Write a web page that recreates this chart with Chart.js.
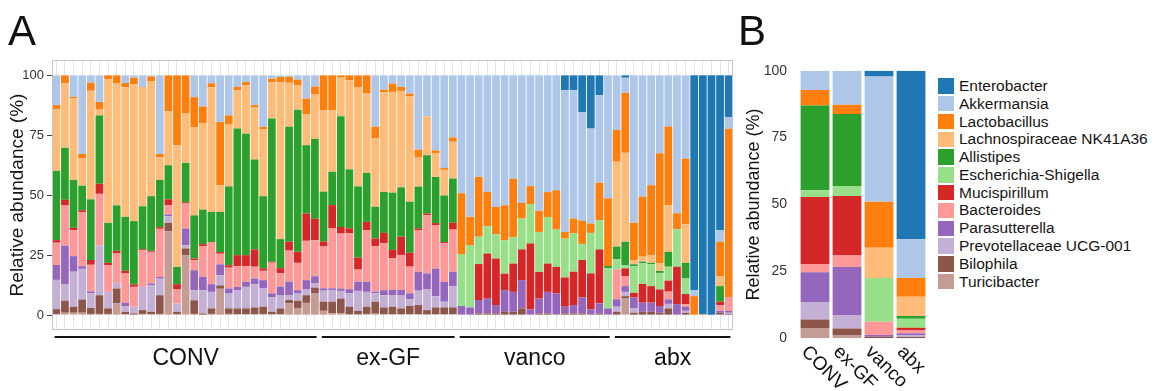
<!DOCTYPE html>
<html>
<head>
<meta charset="utf-8">
<script src="https://cdn.jsdelivr.net/npm/chart.js@4.4.1/dist/chart.umd.min.js"></script>
<style>
  body { margin: 0; background: #fff; font-family: "Liberation Sans", Arial, sans-serif; }
  #wrap { position: relative; width: 1162px; height: 391px; overflow: hidden; }
  #chartA { position: absolute; left: 0; top: 0; }
  #chartB { position: absolute; left: 730px; top: 0; }
  #legend { position: absolute; left: 938px; top: 77px; }
  .row { height: 17.8px; display: flex; align-items: center; font-size: 15.5px; color: #151515; white-space: nowrap; }
  .sw { width: 16px; height: 15.5px; margin-right: 5px; flex: none; }
</style>
</head>
<body>
<div id="wrap">
  <canvas id="chartA" width="740" height="391"></canvas>
  <canvas id="chartB" width="205" height="391"></canvas>
  <div id="legend"></div>
</div>
<script>
// groups of samples (panel A) and categories of panel B
const groupNames = ['CONV', 'ex-GF', 'vanco', 'abx'];
const groupSizes = [31, 16, 18, 14];
const yTicks = [0, 25, 50, 75, 100];

const speciesNames = ['Enterobacter', 'Akkermansia', 'Lactobacillus', 'Lachnospiraceae NK41A36',
  'Allistipes', 'Escherichia-Shigella', 'Mucispirillum', 'Bacteroides', 'Parasutterella',
  'Prevotellaceae UCG-001', 'Bilophila', 'Turicibacter'];

// panel A: relative abundance (%) per sample, CONV | ex-GF | vanco | abx
const enterobacterA = [
  0,0,0,0,0,0,0,0,0,0, 0,0,0,0,0,0,0,0,0,0, 0,0,0,0,0,0,0,0,0,0, 0,
  0,0,0,0,0,0,0,0,0,0, 0,0,0,0,0,0,
  0,0,0,0,0,0,0,0,0,0, 0,0,6.2,6.2,15.3,22.2,8.3,0,
  0,1,0,0,0,0,0,0,0,89.6, 99.6,100,64.5,17.4
];
const akkermansiaA = [
  12.4,0,9,32.8,3.1,11.1,0,0,3.2,1, 4.9,0.5,32.8,0,0,0,9.1,13,3.3,19.5, 16.7,4.8,2.8,12.4,21.5,1.4,0.7,0.6,1.8,9.7, 4.7,
  0,0,0,0,0,0,21.4,6,3.4,4.8, 7.6,31,17.1,31.3,38.6,25.9,
  49.2,59,42.3,48.6,54.9,54.2,43.1,53.2,46.2,56.5, 48.7,47.9,59.1,53.5,45.3,39.6,36.5,51.3,
  22.8,6.3,61.5,50.6,45.8,32.5,21.3,57.5,34.7,2.5, 0,0,4.9,4.9
];
const lactobacillusA = [
  1.8,3.2,0.6,1.7,3.3,3.2,1.5,3.2,1.8,2.8, 0,1.9,1.4,14.9,29.2,15.9,12.5,6.9,1.7,26.4, 3.8,1.4,1.4,1,1.1,1.4,2.3,2.5,2.4,6.5, 3.3,
  14.5,14.6,1,2,4.9,7.6,4.9,1,3.5,1.7, 1.1,3.3,0,1.1,0.8,1.8,
  25.3,11.8,25,14.3,11.4,14.6,24.3,6.5,7.5,8.8, 10.4,16.4,2.8,6.2,9.7,3.9,15.6,28.2,
  13.2,25,15.6,25,29.2,45.8,32.9,6.7,27.4,7.9, 0.4,0,14.3,70.1
];
const lachnospiraceaeA = [
  25.6,27,34,11.5,45.3,2.4,60,51,54,57, 49.7,48,9.4,22.6,50.7,20.6,36.8,36.1,52,11.1, 25.8,16,20.1,21.7,27.8,15.2,65.3,18.3,10.1,12.9, 18.5,
  34,25.6,16.1,37.2,41.4,33.1,28.5,41.6,42,40.2, 44,12.1,16.2,10,10.7,15.3,
  0,0,0,0,0,0,0,0,0,0, 0,0,0,0,0,0,0,0,
  35.4,37.1,1.7,2.1,3.2,3.3,19.4,0,16.1,0, 0,0,4.2,0
];
const allistipesA = [
  28.9,21.7,20,10.3,25.3,28.5,16.7,19,22.5,26.4, 17.9,22.8,19.7,14.2,7.2,16.3,18,14.4,12.5,16.7, 32.9,52.8,50.7,37.5,30.1,59.7,12.1,47.9,59.3,28.5, 33.3,
  20.8,13.9,46.1,24.6,29.7,20.4,13.2,17.1,23.9,20.6, 21.3,17.4,24.3,19.2,19.4,18.5,
  0,0,0,0,0,0,0,0,0,0, 0,0,0,0,0,0,0,1,
  5.3,9.7,0.8,0.7,0.5,0.8,6.2,0,6.5,0, 0,0,6.5,0
];
const escherichiaA = [
  0,0,0,0,0,0,0,0,0,0, 0,0,0,0,0,0,0,0,0,0, 0,0,0,0,0,0,0,0,0,0, 0,
  0,0,0,0,0,0,0,0,0,0, 0,0,0,0,0,0,
  21.7,26,11.4,11.4,10.1,13.9,11.1,12.9,16.4,16.7, 19.4,15.6,16.2,16,6.7,16.9,12.2,16.7,
  4.2,1.4,11.1,8.6,9.2,6.9,5.8,15.6,6.5,0, 0,0,0,0
];
const mucispirillumA = [
  1.1,2.4,1,0.8,2,4.2,1,1.1,1.1,1, 0.4,0.4,0.7,2.5,2.2,0.4,0.7,0.8,0,0.7, 1,4.6,4.6,7.2,1,0.4,2.1,3.8,4.6,11.4, 9,
  2.1,9.7,2.8,2.1,5,3.5,3.2,4.2,3.5,7.6, 5.8,0.7,0.7,1,0.4,2.8,
  0,0,15,18.8,19.4,6.9,11.8,12.8,27.5,11.1, 11.8,11.1,12.2,13.9,15.6,15,22.5,0,
  0,3.2,1.9,7.8,6.9,6.9,4.6,15.6,4.2,0, 0,0,1.4,0
];
const bacteroidesA = [
  9.3,16.7,10.8,22.5,11.1,21.5,11.1,12.2,12.2,8.3, 15.3,13.2,20.1,3.8,5.8,10.7,4.2,12.8,17.6,4.4, 8.7,8.6,6.5,4.9,3.9,12.8,5.6,12.9,11.4,16.4, 15,
  17.4,25,22.9,23.3,5.1,21.5,19,19.7,13.2,14.6, 11.1,17.4,24.3,18,16.2,17.6,
  0,0,0,0,0,0,0,0,0,0, 0,0,0,0,0,0,0,0,
  12.5,4.2,0,0,0,0,3.2,0,1.1,0, 0,0,2.4,5.8
];
const parasutterellaA = [
  6.2,16,6.5,1.1,0.7,0,0,0,1.4,0, 0,0.7,0.7,0.7,0,6.9,8.3,5.6,3.2,4.6, 2.1,1.4,2.1,2.4,3.5,1.7,3.5,5.6,1.4,3.9, 2.8,
  1,0.7,1,1.7,3.8,4.2,0.7,2.1,2.1,2.1, 2.5,7.9,6.7,11.5,8.3,6,
  3.8,3.2,5.6,6.2,3.5,9,8.3,11.8,2.4,6.2, 9,9,2.8,3.5,6.7,2.4,4.2,2.8,
  3.1,2.4,4.6,3.8,3.8,2.8,1.9,4.6,1.7,0, 0,0,0.8,0.8
];
const prevotellaceaeA = [
  12.2,7,14.6,12.8,6.2,20.8,6.9,2.4,2.4,2.8, 9.7,11.1,6.9,2.8,3.5,1.4,4.2,9.7,6.9,4.2, 6.2,7.6,9,9.7,7.6,6,5.6,2.1,3,2.4, 1.9,
  4.6,4.9,3.2,5.6,8.3,6.2,3.5,5.1,4.9,5.6, 2.8,6,8.6,4.7,2.4,8.9,
  0,0,0,0,0,0,0,0,0,0, 0,0,0,0,0,0,0,0,
  2.1,1.8,1.8,0,0,0,1.9,0,0.8,0, 0,0,0,0.5
];
const bilophilaA = [
  2,5,2.5,5.5,2.5,7.8,2.3,6.2,1,0.5, 1.6,1,7.8,3.5,1,2.8,5.7,0.5,2.3,1.4, 2.3,2.4,2.4,2.8,3,1,2.4,1.4,3,3.2, 2.5,
  3.8,4.9,6.2,3.2,1.5,3,5,2.8,3.1,2.4, 3.4,3.8,1.8,2.8,2.8,2.8,
  0,0,0.7,0.7,0.7,1.4,1.4,2.8,0,0.7, 0.7,0,0.7,0.7,0.7,0,0.7,0,
  1.4,1,1,1.4,1.4,1,2.8,0,1,0, 0,0,1,0.5
];
const turicibacterA = [
  0.5,1,1,1,0.5,0.5,0.5,4.9,0.4,0.2, 0.5,0.4,0.5,35,0.4,25,0.5,0.2,0.5,11, 0.5,0.4,0.4,0.4,0.5,0.4,0.4,4.9,3,5.1, 9,
  1.8,0.7,0.7,0.3,0.3,0.5,0.6,0.4,0.4,0.4, 0.4,0.4,0.3,0.4,0.4,0.4,
  0,0,0,0,0,0,0,0,0,0, 0,0,0,0,0,0,0,0,
  0,6.9,0,0,0,0,0,0,0,0, 0,0,0,0
];

// panel B: group means (%), order = groupNames
const enterobacterB = [0, 0, 2.2, 63];
const akkermansiaB = [7.2, 12.7, 46.8, 14.5];
const lactobacillusB = [5.8, 3.5, 17.2, 7];
const lachnospiraceaeB = [0, 0, 11.3, 7.2];
const allistipesB = [31.7, 26.9, 0, 1];
const escherichiaB = [2.5, 3.7, 16.3, 3.4];
const mucispirillumB = [25, 22.3, 0, 0.8];
const bacteroidesB = [3.1, 4.3, 5, 1.2];
const parasutterellaB = [11.1, 17.9, 0.6, 0.9];
const prevotellaceaeB = [6.6, 5, 0, 0.5];
const bilophilaB = [3.3, 2.5, 0.6, 0.5];
const turicibacterB = [3.7, 1.2, 0, 0];

const seriesA = [enterobacterA, akkermansiaA, lactobacillusA, lachnospiraceaeA, allistipesA, escherichiaA,
  mucispirillumA, bacteroidesA, parasutterellaA, prevotellaceaeA, bilophilaA, turicibacterA];
const seriesB = [enterobacterB, akkermansiaB, lactobacillusB, lachnospiraceaeB, allistipesB, escherichiaB,
  mucispirillumB, bacteroidesB, parasutterellaB, prevotellaceaeB, bilophilaB, turicibacterB];

const colors = ['#1f77b4', '#aec7e8', '#ff7f0e', '#ffbb78', '#2ca02c', '#98df8a',
  '#d62728', '#ff9896', '#9467bd', '#c5b0d5', '#8c564b', '#c49c94'];

const FONT = '"Liberation Sans", Arial, Helvetica, sans-serif';

// sample labels (not shown)
const sampleLabels = [];
groupNames.forEach((g, i) => {
  for (let k = 1; k <= groupSizes[i]; k++) sampleLabels.push(g + ' ' + k);
});

// stack from the bottom: Turicibacter first
function makeDatasets(series) {
  return speciesNames.map((name, i) => ({
    label: name,
    data: series[i],
    backgroundColor: colors[i],
    borderWidth: 0,
    categoryPercentage: 1,
    barPercentage: 0.9
  })).reverse();
}

const panelA = {
  id: 'panelA',
  afterDraw(chart) {
    const { ctx, chartArea: a, scales: { x } } = chart;
    ctx.save();
    ctx.strokeStyle = '#c4c4c4';
    ctx.lineWidth = 1;
    ctx.strokeRect(a.left + 0.5, a.top + 0.5, a.right - a.left - 1, a.bottom - a.top - 1);

    const step = x.getPixelForValue(1) - x.getPixelForValue(0);
    ctx.strokeStyle = '#111';
    ctx.fillStyle = '#111';
    ctx.lineWidth = 2;
    ctx.font = '23px ' + FONT;
    ctx.textAlign = 'center';
    ctx.textBaseline = 'middle';
    let start = 0;
    groupNames.forEach((g, i) => {
      const end = start + groupSizes[i] - 1;
      const x0 = x.getPixelForValue(start) - step * 0.2;
      const x1 = x.getPixelForValue(end) + step * 0.2;
      ctx.beginPath();
      ctx.moveTo(x0, a.bottom + 7);
      ctx.lineTo(x1, a.bottom + 7);
      ctx.stroke();
      ctx.fillText(g, (x0 + x1) / 2, a.bottom + 29);
      start = end + 1;
    });

    ctx.textAlign = 'left';
    ctx.textBaseline = 'alphabetic';
    ctx.font = '42px ' + FONT;
    ctx.fillText('A', 8, 45);
    ctx.restore();
  }
};

const panelB = {
  id: 'panelB',
  afterDraw(chart) {
    const { ctx, chartArea: a, scales: { x } } = chart;
    ctx.save();
    ctx.fillStyle = '#111';
    ctx.font = '19px ' + FONT;
    groupNames.forEach((g, i) => {
      ctx.save();
      ctx.translate(x.getPixelForValue(i) - 4, a.bottom + 4);
      ctx.rotate(Math.PI / 4);
      ctx.textAlign = 'left';
      ctx.textBaseline = 'top';
      ctx.fillText(g, 0, 0);
      ctx.restore();
    });
    ctx.font = '42px ' + FONT;
    ctx.fillText('B', 8, 45);
    ctx.restore();
  }
};

new Chart(document.getElementById('chartA'), {
  type: 'bar',
  data: { labels: sampleLabels, datasets: makeDatasets(seriesA) },
  plugins: [panelA],
  options: {
    responsive: false,
    animation: false,
    layout: { padding: { left: 0, top: 60, right: 7, bottom: 61 } },
    plugins: { legend: { display: false }, tooltip: { enabled: false } },
    scales: {
      x: {
        stacked: true,
        grid: { offset: false, color: '#e4e4e4', drawTicks: false },
        border: { display: false },
        ticks: { display: false, autoSkip: false },
        afterFit: s => { s.height = 0; }
      },
      y: {
        stacked: true,
        min: -6.2,
        max: 106.4,
        afterBuildTicks: s => { s.ticks = yTicks.map(v => ({ value: v })); },
        afterFit: s => { s.width = 52; },
        grid: { drawOnChartArea: false, drawTicks: true, tickLength: 5, color: '#444' },
        border: { display: false },
        ticks: { font: { family: FONT, size: 13 }, color: '#333', padding: 3 },
        title: {
          display: true,
          text: 'Relative abundance (%)',
          font: { family: FONT, size: 19 },
          color: '#151515',
          padding: { top: 6, bottom: 0 }
        }
      }
    }
  }
});

new Chart(document.getElementById('chartB'), {
  type: 'bar',
  data: { labels: groupNames, datasets: makeDatasets(seriesB) },
  plugins: [panelB],
  options: {
    responsive: false,
    animation: false,
    layout: { padding: { left: 0, top: 70.7, right: 8, bottom: 52.7 } },
    plugins: { legend: { display: false }, tooltip: { enabled: false } },
    scales: {
      x: {
        stacked: true,
        grid: { display: false },
        border: { display: false },
        ticks: { display: false },
        afterFit: s => { s.height = 0; }
      },
      y: {
        stacked: true,
        min: 0,
        max: 100,
        afterBuildTicks: s => { s.ticks = yTicks.map(v => ({ value: v })); },
        afterFit: s => { s.width = 69; },
        grid: { display: false },
        border: { display: false },
        ticks: { font: { family: FONT, size: 14 }, color: '#333', padding: 4 },
        title: {
          display: true,
          text: 'Relative abundance (%)',
          font: { family: FONT, size: 18 },
          color: '#151515',
          padding: { top: 13, bottom: 0 }
        }
      }
    }
  }
});

// legend built from the same names and colours
const legend = document.getElementById('legend');
speciesNames.forEach((name, i) => {
  const row = document.createElement('div');
  row.className = 'row';
  const sw = document.createElement('span');
  sw.className = 'sw';
  sw.style.background = colors[i];
  const txt = document.createElement('span');
  txt.textContent = name;
  row.appendChild(sw);
  row.appendChild(txt);
  legend.appendChild(row);
});
</script>
</body>
</html>
